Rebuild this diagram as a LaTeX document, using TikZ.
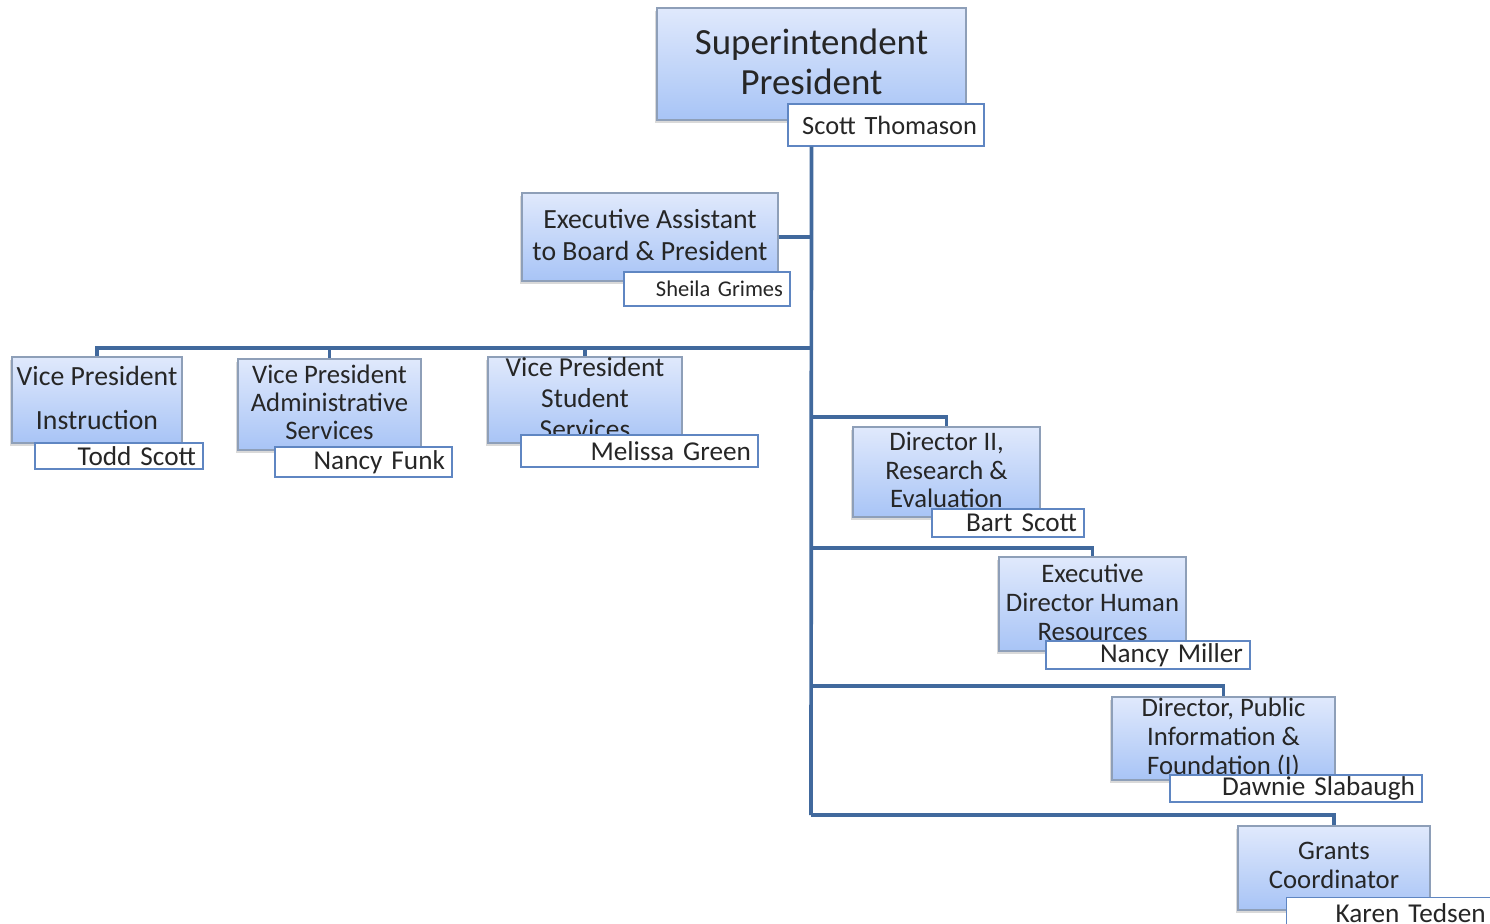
\documentclass[tikz,border=0pt]{standalone}
\usepackage{fontspec}
\setmainfont{Carlito}
\usepackage{tikz}
\usetikzlibrary{shadows, calc, positioning}
\definecolor{linkblue}{HTML}{41699D}
\definecolor{boxtop}{HTML}{E0E9FC}
\definecolor{boxbottom}{HTML}{A8C4F6}
\definecolor{boxrim}{HTML}{8E9FB8}
\definecolor{namerim}{HTML}{5F86C2}
\tikzstyle{office} = [rectangle, draw=boxrim, line width=0.8pt, top color=boxtop, bottom color=boxbottom, inner sep=0pt, align=center, text=black!85, text depth=0.25em, font=\fontsize{15.2}{16.5}\selectfont, drop shadow={shadow xshift=-1.2pt, shadow yshift=-1.8pt, opacity=0.3}]
\tikzstyle{person} = [rectangle, draw=namerim, line width=0.8pt, fill=white, inner xsep=0.14cm, inner ysep=0pt, align=right, text=black!85, font=\fontsize{15.5}{17}\selectfont]
\tikzstyle{link} = [draw=linkblue, line width=2.1pt]

\begin{document}
\begin{tikzpicture}[x=0.02cm, y=-0.02cm]
		\useasboundingbox (0,0) rectangle (1490,923);
		% top of the chart
		\node (Super) [office, minimum width=6.18cm, minimum height=2.24cm, font=\fontsize{21}{23}\selectfont] at (811.5,64) {Superintendent\\President};
		\node (SuperName) [person, text width=3.64cm, minimum height=0.84cm, font=\fontsize{15}{17}\selectfont] at (886,125) {Scott Thomason};
		\node (ExecAssist) [office, minimum width=5.12cm, minimum height=1.76cm, font=\fontsize{15.8}{18.2}\selectfont] at (650,237) {Executive Assistant\\to Board \& President};
		\node (ExecAssistName) [person, text width=3.04cm, minimum height=0.68cm, font=\fontsize{12.8}{14}\selectfont] at (707,289) {Sheila Grimes};
		% vice presidents
		\node (VPInstruction) [office, minimum width=3.4cm, minimum height=1.72cm, font=\fontsize{15.8}{25}\selectfont] at (97,400) {Vice President\\Instruction};
		\node (VPInstructionName) [person, text width=3.08cm, minimum height=0.52cm] at (119,456) {Todd Scott};
		\node (VPAdmin) [office, minimum width=3.66cm, minimum height=1.82cm, font=\fontsize{15.2}{16}\selectfont] at (329.5,404.5) {Vice President\\Administrative\\Services};
		\node (VPAdminName) [person, text width=3.26cm, minimum height=0.6cm] at (363.5,462) {Nancy Funk};
		\node (VPStudent) [office, minimum width=3.88cm, minimum height=1.72cm, font=\fontsize{15.6}{17.6}\selectfont] at (585,400) {Vice President\\Student\\Services};
		\node (VPStudentName) [person, text width=4.46cm, minimum height=0.64cm] at (639.5,451) {Melissa Green};
		% directors
		\node (DirResearch) [office, minimum width=3.74cm, minimum height=1.8cm] at (946.5,472) {Director II,\\Research \&\\Evaluation};
		\node (DirResearchName) [person, text width=2.76cm, minimum height=0.56cm] at (1008,523) {Bart Scott};
		\node (DirHR) [office, minimum width=3.74cm, minimum height=1.88cm] at (1092.5,604) {Executive\\Director Human\\Resources};
		\node (DirHRName) [person, text width=3.8cm, minimum height=0.56cm] at (1148,655) {Nancy Miller};
		\node (DirPublic) [office, minimum width=4.46cm, minimum height=1.66cm] at (1223.5,738.5) {Director, Public\\Information \&\\Foundation (I)};
		\node (DirPublicName) [person, text width=4.76cm, minimum height=0.54cm] at (1296,788.5) {Dawnie Slabaugh};
		\node (Grants) [office, minimum width=3.84cm, minimum height=1.68cm] at (1334,868) {Grants\\Coordinator};
		\node (GrantsName) [person, text width=3.84cm, minimum height=0.6cm, anchor=north west] at (1286,897) {Karen Tedsen};
		% connectors
		\coordinate (VPBus) at (811,348);
		\coordinate (ResearchTap) at (811,417);
		\coordinate (HRTap) at (811,548);
		\coordinate (PublicTap) at (811,686);
		\coordinate (TrunkEnd) at (811,815);
		\draw [link] (SuperName.south -| Super.south) -- (TrunkEnd);
		\draw [link] (ExecAssist.east) -- (ExecAssist.east -| Super.south);
		\draw [link] (VPBus) -| (VPInstruction.north);
		\draw [link] (VPBus) -| (VPAdmin.north);
		\draw [link] (VPBus) -| (VPStudent.north);
		\draw [link] (ResearchTap) -| (DirResearch.north);
		\draw [link] (HRTap) -| (DirHR.north);
		\draw [link] (PublicTap) -| (DirPublic.north);
		\draw [link] (TrunkEnd) -| (Grants.north);
\end{tikzpicture}
\end{document}
